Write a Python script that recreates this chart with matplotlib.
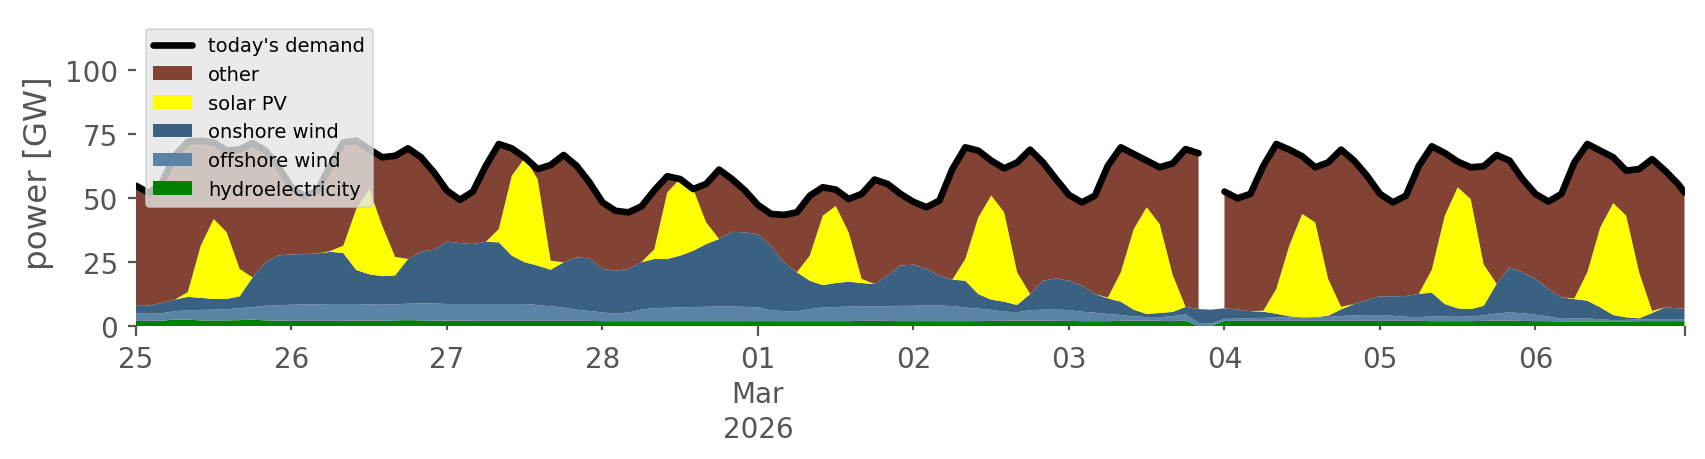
import numpy as np
import pandas as pd
import matplotlib
matplotlib.use("Agg")
import matplotlib.pyplot as plt

# 2-hourly samples from 25 Feb 2026 00:00, last sample at 6 Mar 23:00
times = pd.date_range("2026-02-25", periods=120, freq="2h").append(
    pd.DatetimeIndex(["2026-03-06 23:00"]))

nan = np.nan

hydro = [2.0, 2.0, 2.1, 2.5, 2.5, 2.2, 2.2, 2.2, 2.3, 2.5,
         2.2, 2.1, 2.0, 2.0, 2.0, 2.0, 2.0, 2.1, 2.1, 2.1,
         2.2, 2.3, 2.2, 2.1, 2.1, 2.1, 2.0, 2.0, 2.0, 2.0,
         2.0, 2.0, 2.0, 2.0, 2.0, 2.0, 1.9, 1.9, 1.9, 1.9,
         1.9, 1.9, 1.9, 1.9, 1.9, 1.9, 1.9, 1.9, 1.9, 1.9,
         1.9, 1.9, 1.9, 1.9, 1.9, 1.9, 2.0, 2.0, 2.0, 1.9,
         1.9, 1.9, 1.9, 1.9, 1.9, 1.9, 2.0, 2.0, 2.1, 2.1,
         2.1, 2.0, 2.0, 1.9, 1.9, 1.9, 2.0, 2.1, 2.1, 2.0,
         1.9, 2.1, 0.0, 0.0, 2.0, 2.0, 2.0, 2.0, 2.0, 2.0,
         2.0, 2.0, 2.0, 2.0, 2.0, 2.0, 2.0, 2.0, 2.0, 2.0,
         1.9, 1.9, 1.9, 1.9, 2.0, 2.1, 2.1, 2.0, 1.9, 1.9,
         1.8, 1.8, 1.8, 1.8, 1.8, 1.8, 1.9, 1.9, 1.9, 1.9,
         1.9]

offshore = [3.1, 2.8, 2.9, 3.3, 3.6, 4.1, 4.2, 4.4, 4.6, 4.9,
            5.7, 6.0, 6.3, 6.4, 6.5, 6.6, 6.6, 6.5, 6.4, 6.2,
            6.3, 6.4, 6.7, 6.7, 6.5, 6.5, 6.6, 6.6, 6.6, 6.6,
            6.6, 6.2, 5.7, 5.2, 4.4, 3.9, 3.4, 2.9, 3.4, 4.5,
            5.1, 5.2, 5.4, 5.5, 5.6, 5.7, 5.7, 5.6, 5.4, 4.3,
            3.9, 3.9, 4.7, 5.3, 5.5, 5.7, 5.6, 5.7, 5.7, 6.0,
            6.0, 6.3, 6.1, 5.9, 5.3, 4.9, 4.3, 3.6, 3.3, 4.1,
            4.3, 4.4, 4.2, 3.7, 3.3, 2.8, 2.3, 1.7, 1.4, 1.5,
            1.9, 2.5, 1.2, 1.0, 0.8, 0.9, 1.0, 1.2, 1.3, 1.3,
            1.3, 1.3, 1.6, 1.9, 2.2, 2.3, 2.3, 2.0, 1.6, 1.5,
            1.8, 1.8, 1.7, 1.8, 2.2, 2.8, 3.2, 3.0, 2.5, 1.8,
            1.0, 1.2, 1.2, 0.8, 0.5, 0.6, 0.6, 0.8, 0.8, 0.8,
            0.8]

onshore = [3.1, 3.2, 4.0, 4.5, 5.3, 4.7, 4.2, 4.0, 4.7, 11.6,
           17.0, 19.5, 19.7, 19.7, 19.8, 20.4, 19.9, 13.3, 11.7, 11.2,
           11.3, 17.5, 20.1, 21.0, 24.4, 23.8, 23.4, 24.3, 24.1, 18.9,
           16.3, 15.4, 14.3, 17.7, 20.4, 20.5, 17.0, 16.8, 17.0, 18.5,
           19.2, 19.1, 20.2, 22.0, 24.5, 26.4, 29.2, 29.1, 28.6, 25.2,
           19.1, 15.2, 11.1, 8.8, 9.4, 9.7, 9.2, 8.7, 12.0, 15.7,
           16.1, 14.1, 11.7, 10.3, 10.5, 5.7, 4.0, 3.9, 2.8, 6.3,
           11.3, 12.2, 11.5, 10.2, 7.3, 6.1, 5.2, 2.6, 1.2, 1.6,
           1.7, 2.9, 5.4, 5.4, 4.1, 3.6, 2.8, 2.4, 1.5, 0.5,
           0.1, 0.2, 0.4, 2.6, 4.4, 5.9, 7.3, 7.6, 8.1, 9.1,
           9.3, 4.9, 3.3, 2.9, 3.7, 11.6, 17.6, 16.0, 14.0, 10.8,
           8.4, 7.5, 6.9, 4.7, 2.0, 1.0, 0.5, 2.4, 4.6, 4.2,
           4.2]

solar = [0, 0, 0, 0, 1.8, 20.4, 31.2, 26.0, 10.7, 0,
         0, 0, 0, 0, 0, 0.3, 2.9, 23.8, 33.3, 19.7,
         7.2, 0, 0, 0, 0, 0, 0, 0, 5.2, 31.2,
         40.7, 33.8, 3.5, 0, 0, 0, 0, 0, 0, 0,
         3.8, 26.0, 30.1, 24.1, 8.5, 0, 0, 0, 0, 0,
         0, 0, 9.8, 27.1, 30.1, 19.3, 1.6, 0, 0, 0,
         0, 0, 0, 0, 8.5, 29.9, 40.7, 34.9, 12.8, 0,
         0, 0, 0, 0, 0, 0.3, 11.5, 31.5, 41.7, 34.7,
         14.5, 0, 0, 0, 0, 0, 0, 0.4, 9.7, 27.6,
         40.4, 37.0, 14.4, 1.0, 0, 0, 0, 0, 0, 0,
         9.0, 34.5, 47.3, 43.0, 16.2, 0, 0, 0, 0, 0,
         0, 0.3, 11.1, 31.2, 43.7, 39.7, 18.0, 0.8, 0, 0,
         0]

other = [46.6, 44.0, 47.0, 56.2, 58.8, 41.0, 29.9, 31.9, 46.7, 52.5,
         43.6, 34.4, 26.2, 22.6, 24.6, 33.3, 40.3, 26.7, 15.6, 26.7,
         39.5, 43.2, 36.9, 30.2, 19.9, 16.9, 20.5, 29.7, 33.2, 10.7,
         0.3, 3.9, 37.4, 41.9, 35.8, 29.7, 26.0, 23.4, 22.1, 21.8,
         23.0, 6.3, 0.0, 0.0, 15.0, 27.1, 20.6, 16.3, 11.4, 12.4,
         18.5, 23.4, 23.4, 11.1, 6.4, 13.0, 33.2, 40.8, 35.8, 28.0,
         24.5, 24.1, 29.3, 43.2, 43.6, 26.1, 13.6, 17.2, 42.9, 56.4,
         46.2, 38.8, 33.5, 32.5, 38.4, 51.5, 48.8, 29.3, 18.2, 22.2,
         43.5, 61.6, 60.9, nan, 45.6, 43.4, 45.8, 56.6, 56.6, 37.5,
         22.5, 21.5, 45.5, 61.4, 56.0, 48.5, 40.0, 36.7, 39.2, 50.0,
         48.2, 24.5, 10.0, 12.4, 38.3, 50.3, 41.7, 36.4, 33.2, 34.1,
         40.4, 53.1, 50.1, 30.0, 17.9, 17.6, 40.3, 59.3, 53.4, 48.6,
         45.3]

demand = [54.8, 52.0, 56.0, 66.5, 72.0, 72.4, 71.7, 68.5, 69.0, 71.5,
          68.5, 62.0, 54.2, 50.7, 52.9, 62.6, 71.7, 72.4, 69.1, 65.9,
          66.5, 69.4, 65.9, 60.0, 52.9, 49.3, 52.5, 62.6, 71.1, 69.4,
          65.9, 61.3, 62.9, 66.8, 62.6, 56.1, 48.3, 45.0, 44.4, 46.7,
          53.0, 58.5, 57.4, 53.5, 55.5, 61.1, 57.4, 52.9, 47.3, 43.8,
          43.4, 44.4, 50.9, 54.2, 53.3, 49.6, 51.6, 57.2, 55.5, 51.6,
          48.5, 46.4, 49.0, 61.3, 69.8, 68.5, 64.6, 61.6, 63.9, 68.9,
          63.9, 57.4, 51.2, 48.3, 50.9, 62.6, 69.8, 67.2, 64.6, 62.0,
          63.5, 69.1, 67.5, nan, 52.5, 49.9, 51.6, 62.6, 71.1, 68.9,
          66.3, 62.0, 63.9, 68.9, 64.6, 58.7, 51.6, 48.3, 50.9, 62.6,
          70.2, 67.6, 64.2, 62.0, 62.4, 66.8, 64.6, 57.4, 51.6, 48.6,
          51.6, 63.9, 71.1, 68.5, 65.9, 60.7, 61.3, 65.2, 60.7, 55.5,
          52.2]

labels = ["hydroelectricity", "offshore wind", "onshore wind", "solar PV", "other"]
colors = ["#008000", "#5b83a6", "#3b6182", "#ffff00", "#824334"]

grey = "#555555"
fig = plt.figure(figsize=(8.53, 2.3), dpi=200)
ax = fig.add_axes([0.0797, 0.2891, 0.9077, 0.6678])

polys = ax.stackplot(times, hydro, offshore, onshore, solar, other,
                     labels=labels, colors=colors, linewidth=0)
line, = ax.plot(times, demand, color="black", lw=2.4, label="today's demand",
                solid_joinstyle="round", solid_capstyle="round")

ax.set_xlim(times[0], times[-1])
ax.set_ylim(0, 120)
ax.set_yticks([0, 25, 50, 75, 100])
ax.set_ylabel("power [GW]", fontsize=11.7, color=grey)

# day ticks: month start and the ends are long ticks, the rest short
ax.set_xticks([pd.Timestamp("2026-02-25"), pd.Timestamp("2026-03-01"), times[-1]],
              labels=["25", "01\nMar\n2026", ""])
minor_days = pd.to_datetime(["2026-02-26", "2026-02-27", "2026-02-28", "2026-03-02",
                             "2026-03-03", "2026-03-04", "2026-03-05", "2026-03-06"])
ax.set_xticks(minor_days, labels=[d.strftime("%d") for d in minor_days], minor=True)

ax.tick_params(axis="both", which="both", colors=grey, labelsize=10)
ax.tick_params(axis="x", which="major", length=3.5, width=0.8, pad=3.5)
ax.tick_params(axis="x", which="minor", length=1.5, width=0.8, pad=5.5)
ax.tick_params(axis="y", length=3.0, width=0.8, pad=3.5)
for lab in ax.get_xticklabels():
    lab.set_linespacing(1.3)
for s in ax.spines.values():
    s.set_visible(False)

handles = [line] + polys[::-1]
leg = ax.legend(handles=handles, labels=[h.get_label() for h in handles],
                loc="upper left", fontsize=7, facecolor="#e5e5e5",
                edgecolor="#cccccc", framealpha=0.8)
leg.get_frame().set_linewidth(0.6)

fig.savefig("out.png", dpi=200)
